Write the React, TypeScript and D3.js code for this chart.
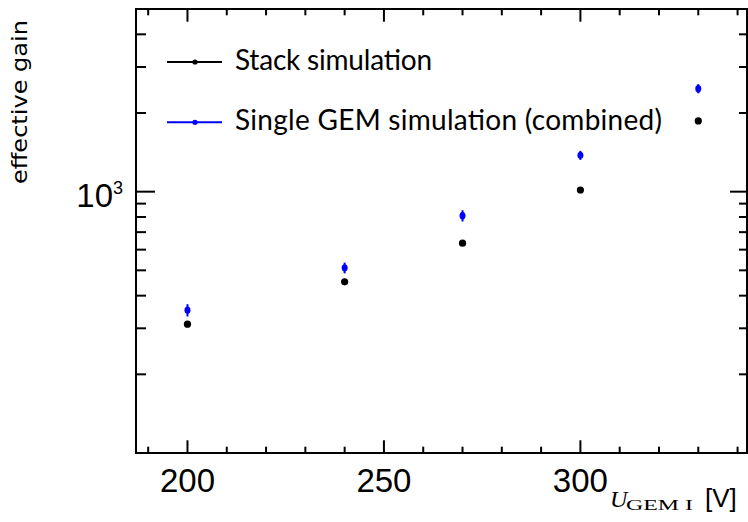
import React from "react";
import * as d3 from "d3";

const voltages = [200, 240, 270, 300, 330];
const stackGain = [311, 452, 635, 1015, 1865];
const singleGain = [352, 511, 809, 1378, 2479];
const singleErr = [19, 24, 40, 55, 100];

const xMajorTicks = [200, 250, 300];
const xMinorTicks = [190, 210, 220, 230, 240, 260, 270, 280, 290, 310, 320, 330, 340];
const yMajorTicks = [1000];
const yMinorTicks = [200, 300, 400, 500, 600, 700, 800, 900, 2000, 3000, 4000];

const legendLabels = ["Stack simulation", "Single GEM simulation (combined)"];
const legendColors = ["#000000", "#0000ff"];

const W = 748;
const H = 522;
const L = 136, R = 747, T = 9, B = 453;

export default function App() {
  const x = d3.scaleLinear().domain([186.9, 342.4]).range([L, R]);
  const y = d3.scaleLog().domain([100, 5000]).range([B, T]);
  const sans = "'Liberation Sans', Arial, Helvetica, sans-serif";
  const legendFont = "Lato, 'Open Sans', sans-serif";
  const serif = "'Liberation Serif', 'Times New Roman', serif";

  return (
    <svg width={W} height={H} style={{ position: "absolute", left: 0, top: 0, background: "#fff" }}>
      <rect x={0} y={0} width={W} height={H} fill="#fff" />
      {/* ticks bottom/top */}
      {xMajorTicks.map((t) => (
        <g key={"xM" + t} stroke="#000" strokeWidth={2}>
          <line x1={x(t)} x2={x(t)} y1={B} y2={B - 12.7} />
          <line x1={x(t)} x2={x(t)} y1={T} y2={T + 12.7} />
        </g>
      ))}
      {xMinorTicks.map((t) => (
        <g key={"xm" + t} stroke="#000" strokeWidth={2}>
          <line x1={x(t)} x2={x(t)} y1={B} y2={B - 6.3} />
          <line x1={x(t)} x2={x(t)} y1={T} y2={T + 6.3} />
        </g>
      ))}
      {yMajorTicks.map((t) => (
        <g key={"yM" + t} stroke="#000" strokeWidth={2}>
          <line x1={L} x2={L + 19} y1={y(t)} y2={y(t)} />
          <line x1={R} x2={R - 17} y1={y(t)} y2={y(t)} />
        </g>
      ))}
      {yMinorTicks.map((t) => (
        <g key={"ym" + t} stroke="#000" strokeWidth={2}>
          <line x1={L} x2={L + 10} y1={y(t)} y2={y(t)} />
          <line x1={R} x2={R - 8} y1={y(t)} y2={y(t)} />
        </g>
      ))}
      {/* frame */}
      <rect x={L} y={T} width={R - L} height={B - T} fill="none" stroke="#000" strokeWidth={2} />

      {/* x tick labels */}
      {xMajorTicks.map((t) => (
        <text key={"xl" + t} x={x(t)} y={491.5} textAnchor="middle" fontFamily={sans} fontSize={33} fill="#000">
          {t}
        </text>
      ))}
      {/* y tick label 10^3 */}
      {yMajorTicks.map((t) => (
        <g key={"yl" + t}>
          <text x={113} y={y(t) + 15.5} textAnchor="end" fontFamily={sans} fontSize={33} fill="#000">
            10
          </text>
          <text x={113} y={y(t) + 2.5} textAnchor="start" fontFamily={sans} fontSize={18} fill="#000">
            {Math.round(Math.log10(t))}
          </text>
        </g>
      ))}

      {/* axis titles */}
      <text
        transform="translate(27,102) rotate(-90)"
        textAnchor="middle"
        fontFamily="'DejaVu Sans', sans-serif"
        fontSize={21}
        fill="#000"
        textLength={164}
        lengthAdjust="spacingAndGlyphs"
      >
        effective gain
      </text>
      <text x={610} y={507} fontFamily={serif} fontStyle="italic" fontSize={24} fill="#000">
        U
      </text>
      <text x={626} y={510} fontFamily={serif} fontSize={15} fill="#000" textLength={67} lengthAdjust="spacingAndGlyphs">
        GEM I
      </text>
      <text x={705} y={507} fontFamily={sans} fontSize={26} fill="#000">
        [V]
      </text>

      {/* stack points */}
      {voltages.map((v, i) => (
        <circle key={"s" + v} cx={x(v)} cy={y(stackGain[i])} r={3.6} fill="#000" />
      ))}
      {/* single GEM points with error bars */}
      {voltages.map((v, i) => (
        <g key={"g" + v}>
          <line
            x1={x(v)}
            x2={x(v)}
            y1={y(singleGain[i] - singleErr[i])}
            y2={y(singleGain[i] + singleErr[i])}
            stroke="#0000ff"
            strokeWidth={2}
          />
          <ellipse cx={x(v)} cy={y(singleGain[i])} rx={3} ry={3.6} fill="#0000ff" />
        </g>
      ))}

      {/* legend */}
      {legendLabels.map((lab, i) => {
        const ly = 62 + i * 60.3;
        return (
          <g key={"lg" + i}>
            <line x1={167} x2={222} y1={ly} y2={ly} stroke={legendColors[i]} strokeWidth={2} />
            <circle cx={195} cy={ly} r={2.6} fill={legendColors[i]} />
            <text
              x={235}
              y={ly + 7.5}
              fontFamily={legendFont}
              fontSize={28}
              fill="#000"
              textLength={i === 0 ? 197 : 427}
              lengthAdjust="spacing"
            >
              {lab}
            </text>
          </g>
        );
      })}
    </svg>
  );
}
